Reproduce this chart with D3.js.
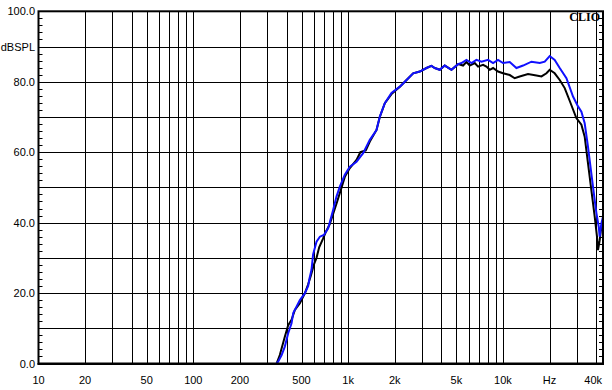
<!DOCTYPE html>
<html>
<head>
<meta charset="utf-8">
<script src="https://cdn.jsdelivr.net/npm/d3@7"></script>
<style>
  body { margin: 0; background: #fff; }
  .chart text { font-family: "Liberation Sans", Arial, sans-serif; font-size: 11px; fill: #000; }
</style>
</head>
<body>
<div class="chart"></div>
<script>
// Frequency response data: [Hz, dBSPL]
var blackCurve = [
  [345, 0], [362, 2.4], [390, 7.6], [410, 10.9], [431, 12.4], [453, 15.2], [488, 17.1],
  [525, 19.9], [552, 22.5], [575, 25], [600, 28], [625, 30], [650, 33], [690, 35.5],
  [720, 37.5], [760, 39.5], [800, 42.5], [850, 46], [900, 49.5], [952, 53], [1026, 55.5],
  [1133, 57.8], [1200, 60], [1300, 60.5], [1381, 63], [1525, 66.3], [1602, 70], [1726, 73.9],
  [1906, 76.5], [2158, 78.6], [2384, 80.5], [2630, 82.4], [2904, 82.9], [3206, 83.9],
  [3452, 84.5], [3630, 83.9], [3908, 83.4], [4208, 84.6], [4652, 83.4], [5130, 85],
  [5525, 84.6], [5810, 85.6], [6105, 84.6], [6577, 85.3], [6908, 84.3], [7441, 84.8],
  [7822, 84.3], [8222, 83.4], [8634, 83.9], [9295, 82.9], [10015, 82.4], [11066, 81.9],
  [11910, 81], [12830, 81.5], [14520, 82.2], [16450, 81.8], [17740, 81.5], [19100, 82.4],
  [20050, 83.4], [21590, 82.4], [23270, 80.5], [25060, 78.2], [26980, 74.6], [29800, 69.7],
  [32120, 67.8], [33730, 64.4], [35420, 56.9], [37230, 49.3], [39150, 41.7], [40500, 36],
  [41100, 32.2], [42170, 35], [43240, 38.9], [44290, 40]
];

var blueCurve = [
  [345, 0], [353, 0.5], [372, 2.4], [390, 4.8], [410, 8.6], [431, 11.4], [442, 14.3],
  [464, 16.1], [488, 18], [525, 19.9], [552, 22], [562, 24], [580, 26.6], [594, 31],
  [625, 34.6], [657, 36], [697, 36.5], [743, 38.4], [800, 43.6], [841, 47.4], [884, 50.2],
  [952, 53.6], [1026, 55.9], [1133, 57.3], [1250, 59.7], [1381, 63.5], [1525, 66.3],
  [1602, 70.1], [1726, 73.9], [1906, 76.8], [2158, 78.6], [2384, 80.5], [2630, 82.4],
  [2904, 82.9], [3206, 83.9], [3452, 84.5], [3630, 83.9], [3908, 83.4], [4208, 84.6],
  [4652, 83.4], [5130, 85], [5396, 85.3], [5810, 86.2], [6262, 85.3], [6743, 86.2],
  [7266, 85.7], [8017, 86.2], [8634, 85.3], [9295, 86.2], [10015, 85.3], [11066, 85.6],
  [12220, 83.9], [13490, 84.6], [15280, 85.7], [17290, 85.3], [18620, 85.7], [20050, 87.3],
  [21590, 86.2], [23270, 83.9], [25710, 81], [28360, 75.8], [30540, 73], [32120, 71.5],
  [33730, 68.2], [35420, 61.6], [37230, 54], [39150, 46.4], [40160, 42.7], [41540, 38.9],
  [42170, 36], [43240, 39.8], [44290, 41.7]
];

// Tick labels
var xLabels = [
  [10, "10"], [20, "20"], [50, "50"], [100, "100"], [200, "200"], [500, "500"],
  [1000, "1k"], [2000, "2k"], [5000, "5k"], [10000, "10k"], [20000, "Hz"], [40000, "40k"]
];
var yLabels = [0, 20, 40, 60, 80, 100];

// Chart dimensions
var svgWidth = 612;
var svgHeight = 390;
var plot = { left: 38.5, right: 603, top: 11.3, bottom: 363.5 };

var svg = d3.select(".chart")
  .append("svg")
  .attr("width", svgWidth)
  .attr("height", svgHeight);

// Scales
var x = d3.scaleLog().domain([10, 44290]).range([plot.left, plot.right]);
var y = d3.scaleLinear().domain([0, 100]).range([plot.bottom, plot.top]);

// Vertical grid: 1..9 per decade
var vGrid = [];
[10, 100, 1000, 10000].forEach(dec => {
  for (var k = 1; k < 10; k++) {
    var f = dec * k;
    if (f > 10 && f <= 40000) vGrid.push(f);
  }
});

svg.append("g")
  .selectAll("line")
  .data(vGrid)
  .enter()
  .append("line")
  .attr("x1", d => Math.round(x(d)) + 0.5)
  .attr("x2", d => Math.round(x(d)) + 0.5)
  .attr("y1", plot.top)
  .attr("y2", plot.bottom)
  .attr("stroke", "#000")
  .attr("stroke-width", 1);

// Horizontal grid every 10 dB
svg.append("g")
  .selectAll("line")
  .data(d3.range(10, 100, 10))
  .enter()
  .append("line")
  .attr("x1", plot.left)
  .attr("x2", plot.right)
  .attr("y1", d => Math.round(y(d)) + 0.5)
  .attr("y2", d => Math.round(y(d)) + 0.5)
  .attr("stroke", "#000")
  .attr("stroke-width", 1);

// Minor ticks every 2 dB, on the inside of left and right borders
var minor = d3.range(2, 100, 2).filter(d => d % 10 != 0);
svg.append("g")
  .selectAll("line")
  .data(minor)
  .enter()
  .append("line")
  .attr("x1", plot.left)
  .attr("x2", plot.left + 4)
  .attr("y1", d => Math.round(y(d)) + 0.5)
  .attr("y2", d => Math.round(y(d)) + 0.5)
  .attr("stroke", "#000");
svg.append("g")
  .selectAll("line")
  .data(minor)
  .enter()
  .append("line")
  .attr("x1", plot.right - 4)
  .attr("x2", plot.right)
  .attr("y1", d => Math.round(y(d)) + 0.5)
  .attr("y2", d => Math.round(y(d)) + 0.5)
  .attr("stroke", "#000");

// Curves, clipped to the plot
svg.append("clipPath")
  .attr("id", "plotClip")
  .append("rect")
  .attr("x", plot.left)
  .attr("y", plot.top)
  .attr("width", plot.right - plot.left)
  .attr("height", plot.bottom - plot.top);

var line = d3.line()
  .x(d => x(d[0]))
  .y(d => y(d[1]));

svg.append("path")
  .datum(blackCurve)
  .attr("clip-path", "url(#plotClip)")
  .attr("fill", "none")
  .attr("stroke", "#000")
  .attr("stroke-width", 2)
  .attr("d", line);

svg.append("path")
  .datum(blueCurve)
  .attr("clip-path", "url(#plotClip)")
  .attr("fill", "none")
  .attr("stroke", "#1010ff")
  .attr("stroke-width", 2)
  .attr("d", line);

// Frame
svg.append("rect")
  .attr("x", plot.left)
  .attr("y", plot.top)
  .attr("width", plot.right - plot.left)
  .attr("height", plot.bottom - plot.top)
  .attr("fill", "none")
  .attr("stroke", "#000")
  .attr("stroke-width", 2);
svg.append("line")
  .attr("x1", plot.left - 1)
  .attr("x2", plot.right + 1)
  .attr("y1", plot.bottom + 0.5)
  .attr("y2", plot.bottom + 0.5)
  .attr("stroke", "#000")
  .attr("stroke-width", 2);

// Y labels
svg.append("g")
  .selectAll("text")
  .data(yLabels)
  .enter()
  .append("text")
  .attr("x", 35)
  .attr("y", d => y(d) + 4)
  .attr("text-anchor", "end")
  .text(d => d.toFixed(1));

svg.append("text")
  .attr("x", 35)
  .attr("y", y(90) + 4)
  .attr("text-anchor", "end")
  .text("dBSPL");

// X labels
svg.append("g")
  .selectAll("text")
  .data(xLabels)
  .enter()
  .append("text")
  .attr("x", d => d[0] == 40000 ? x(d[0]) - 3 : x(d[0]))
  .attr("y", 384)
  .attr("text-anchor", "middle")
  .text(d => d[1]);

// Brand mark
svg.append("text")
  .attr("x", 600)
  .attr("y", 21)
  .attr("text-anchor", "end")
  .style("font-family", "'Liberation Serif', 'Times New Roman', serif")
  .style("font-weight", "bold")
  .style("font-size", "12px")
  .text("CLIO");
</script>
</body>
</html>
